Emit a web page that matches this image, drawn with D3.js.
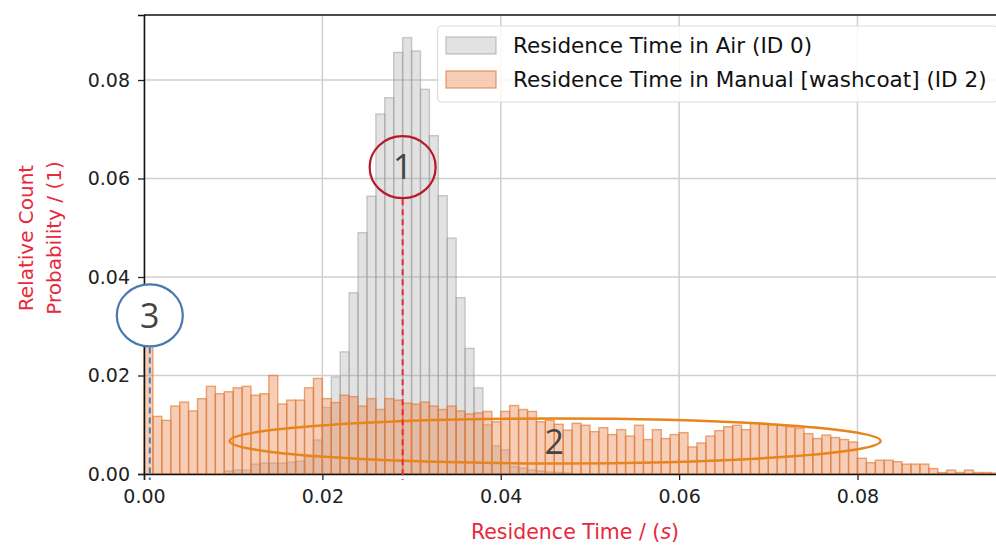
<!DOCTYPE html>
<html>
<head>
<meta charset="utf-8">
<script src="https://d3js.org/d3.v7.min.js"></script>
<style>
  body { margin: 0; background: #fff; }
  svg { display: block; font-family: "DejaVu Sans", sans-serif; }
</style>
</head>
<body>
<div id="chart"></div>
<script>
// histogram bins, width 0.001, starting at 0
var binWidth = 0.001;
var airValues = [
  0, 0, 0, 0, 0, 0, 0, 0, 0, 0.0006,
  0.0008, 0.0008, 0.0020, 0.0022, 0.0022, 0.0022, 0.0024, 0.0026, 0.0035, 0.0069,
  0.0135, 0.0197, 0.0248, 0.0368, 0.0490, 0.0564, 0.0731, 0.0764, 0.0856, 0.0886,
  0.0859, 0.0781, 0.0687, 0.0565, 0.0479, 0.0358, 0.0255, 0.0175, 0.0100, 0.0057,
  0.0049, 0.0015, 0.0012, 0.0008, 0.0006, 0.0004, 0.0003, 0.0002
];
var manualValues = [
  0.0270, 0.0117, 0.0109, 0.0138, 0.0146, 0.0128, 0.0153, 0.0178, 0.0163, 0.0167,
  0.0175, 0.0178, 0.0160, 0.0163, 0.0200, 0.0142, 0.0150, 0.0150, 0.0175, 0.0194,
  0.0153, 0.0145, 0.0160, 0.0157, 0.0138, 0.0153, 0.0131, 0.0153, 0.0150, 0.0144,
  0.0142, 0.0146, 0.0138, 0.0131, 0.0138, 0.0128, 0.0122, 0.0124, 0.0127, 0.0106,
  0.0127, 0.0139, 0.0131, 0.0127, 0.0106, 0.0109, 0.0101, 0.0089, 0.0103, 0.0099,
  0.0086, 0.0094, 0.0080, 0.0090, 0.0077, 0.0099, 0.0070, 0.0090, 0.0072, 0.0080,
  0.0084, 0.0055, 0.0063, 0.0077, 0.0088, 0.0096, 0.0099, 0.0090, 0.0103, 0.0103,
  0.0101, 0.0099, 0.0096, 0.0093, 0.0082, 0.0072, 0.0079, 0.0074, 0.0070, 0.0065,
  0.0032, 0.0023, 0.0028, 0.0028, 0.0025, 0.0020, 0.0020, 0.0020, 0.0011, 0.0003,
  0.0008, 0.0003, 0.0008, 0.0003, 0.0003, 0.0002
];
var xTicks = [0, 0.02, 0.04, 0.06, 0.08];
var yTicks = [0, 0.02, 0.04, 0.06, 0.08];
var seriesNames = ["Residence Time in Air (ID 0)", "Residence Time in Manual [washcoat] (ID 2)"];

// annotation marks in data units
var markers = [
  { x: 0.0290, y: 0.0623, label: "1", color: "#b5192b", fill: "none", line: "#e8283c" },
  { x: 0.00065, y: 0.0322, label: "3", color: "#4a78b0", fill: "#fff", line: "#4a78b0" }
];

var W = 996, H = 547;
var x = d3.scaleLinear().domain([0, 0.0957]).range([144, 997.5]);
var y = d3.scaleLinear().domain([0, 0.0932]).range([474, 15]);

var svg = d3.select("#chart").append("svg")
  .attr("width", W).attr("height", H);

// grid
svg.append("g").selectAll("line").data(xTicks).enter().append("line")
  .attr("x1", function(d) { return x(d); }).attr("x2", function(d) { return x(d); })
  .attr("y1", y(0.0932)).attr("y2", y(0))
  .attr("stroke", "#cfcfcf").attr("stroke-width", 1.5);
svg.append("g").selectAll("line").data(yTicks).enter().append("line")
  .attr("x1", x(0)).attr("x2", W)
  .attr("y1", function(d) { return y(d); }).attr("y2", function(d) { return y(d); })
  .attr("stroke", "#cfcfcf").attr("stroke-width", 1.5);

function drawBars(values, fill, stroke, op) {
  svg.append("g").selectAll("rect").data(values).enter().append("rect")
    .attr("x", function(d, i) { return x(i * binWidth); })
    .attr("y", function(d) { return y(d); })
    .attr("width", x(binWidth) - x(0))
    .attr("height", function(d) { return y(0) - y(d); })
    .attr("fill", fill).attr("fill-opacity", op)
    .attr("stroke", stroke).attr("stroke-opacity", op + 0.25).attr("stroke-width", 1.4);
}
drawBars(airValues, "#a0a0a0", "#a0a0a0", 0.3);
drawBars(manualValues, "#e8844a", "#e07a36", 0.4);

// axes
var xAxis = svg.append("g").attr("transform", "translate(0," + y(0) + ")")
  .call(d3.axisBottom(x).tickValues(xTicks).tickFormat(d3.format(".2f")).tickSize(6).tickPadding(10));
var yAxis = svg.append("g").attr("transform", "translate(" + x(0) + ",0)")
  .call(d3.axisLeft(y).tickValues(yTicks).tickFormat(d3.format(".2f")).tickSize(6).tickPadding(8));
[xAxis, yAxis].forEach(function(a) {
  a.select(".domain").attr("stroke", "#111").attr("stroke-width", 1.5);
  a.selectAll(".tick line").attr("stroke", "#222").attr("stroke-width", 1.3);
  a.selectAll(".tick text").attr("font-size", 19).attr("fill", "#222")
    .attr("font-family", "DejaVu Sans, sans-serif");
});
// top spine
svg.append("line").attr("x1", x(0)).attr("x2", W).attr("y1", y(0.0932)).attr("y2", y(0.0932))
  .attr("stroke", "#111").attr("stroke-width", 1.5);

// axis labels
var red = "#e8283c";
var xl = svg.append("text").attr("x", 575).attr("y", 539).attr("text-anchor", "middle")
  .attr("font-size", 20.5).attr("fill", red);
xl.append("tspan").text("Residence Time / (");
xl.append("tspan").attr("font-style", "italic").text("s");
xl.append("tspan").text(")");
svg.append("text").attr("transform", "translate(33,238) rotate(-90)").attr("text-anchor", "middle")
  .attr("font-size", 20).attr("fill", red).text("Relative Count");
svg.append("text").attr("transform", "translate(61,238) rotate(-90)").attr("text-anchor", "middle")
  .attr("font-size", 20).attr("fill", red).text("Probability / (1)");

// annotation: ellipse 2
svg.append("ellipse").attr("cx", x(0.0461)).attr("cy", y(0.0067))
  .attr("rx", x(0.0365) - x(0)).attr("ry", y(0) - y(0.00455))
  .attr("fill", "none").attr("stroke", "#e8841c").attr("stroke-width", 2.5);
svg.append("text").attr("x", x(0.0460)).attr("y", y(0.0066)).attr("dy", "0.36em")
  .attr("text-anchor", "middle").attr("font-family", "Open Sans, sans-serif")
  .attr("font-size", 34).attr("fill", "#444").text("2");

// annotation: circles 1 and 3 with dashed guides
markers.forEach(function(m) {
  var cx = x(m.x), cy = y(m.y), r = 32;
  svg.append("line").attr("x1", cx).attr("x2", cx).attr("y1", cy + r).attr("y2", y(0) + 6)
    .attr("stroke", m.line).attr("stroke-width", 2).attr("stroke-dasharray", "6,4");
  svg.append("ellipse").attr("cx", cx).attr("cy", cy).attr("rx", r + 1).attr("ry", r - 1)
    .attr("fill", m.fill).attr("stroke", m.color).attr("stroke-width", 2.2);
  svg.append("text").attr("x", cx).attr("y", cy).attr("dy", "0.36em")
    .attr("text-anchor", "middle").attr("font-family", "Open Sans, sans-serif")
    .attr("font-size", 34).attr("fill", "#444").text(m.label);
});

// legend
var lg = svg.append("g");
lg.append("rect").attr("x", 437.5).attr("y", 26).attr("width", 560).attr("height", 76)
  .attr("rx", 4).attr("fill", "#fff").attr("fill-opacity", 0.85)
  .attr("stroke", "#dcdcdc").attr("stroke-width", 1.2);
var sw = [["#a0a0a0", "#a0a0a0", 0.3], ["#e8844a", "#e07a36", 0.4]];
seriesNames.forEach(function(name, i) {
  var yy = 37 + i * 34;
  lg.append("rect").attr("x", 446).attr("y", yy).attr("width", 50).attr("height", 17)
    .attr("fill", sw[i][0]).attr("fill-opacity", sw[i][2])
    .attr("stroke", sw[i][1]).attr("stroke-opacity", sw[i][2] + 0.25).attr("stroke-width", 1.4);
  lg.append("text").attr("x", 513).attr("y", yy + 8.5).attr("dy", "0.35em")
    .attr("font-size", 21.5).attr("fill", "#111").text(name);
});
</script>
</body>
</html>
